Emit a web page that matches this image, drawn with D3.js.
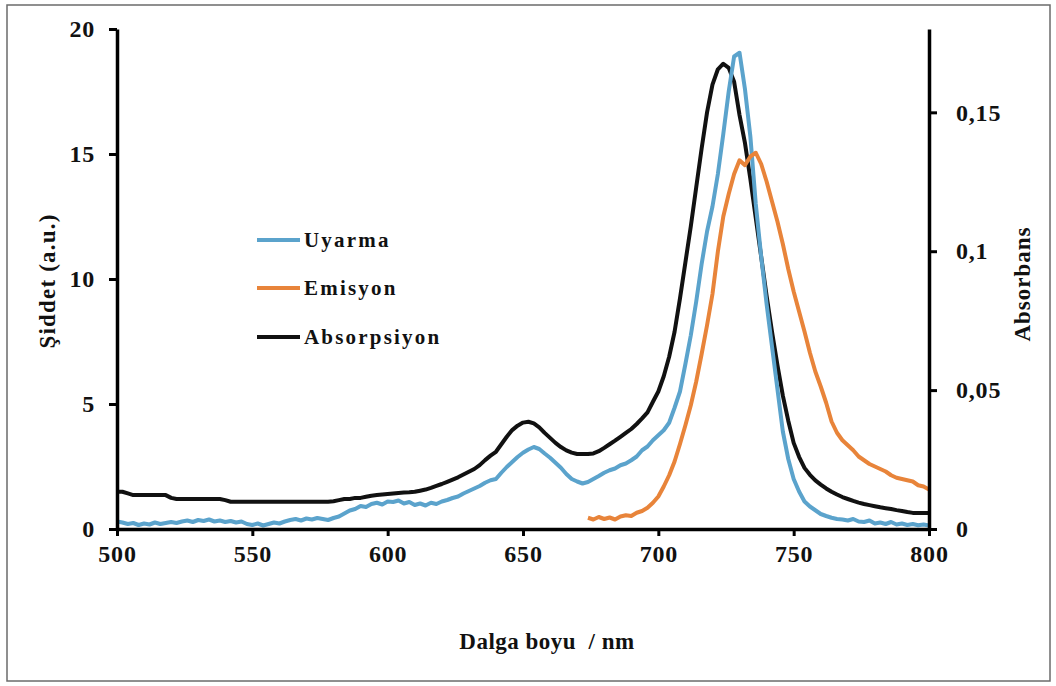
<!DOCTYPE html>
<html>
<head>
<meta charset="utf-8">
<script src="https://cdn.jsdelivr.net/npm/d3@7/dist/d3.min.js"></script>
<style>
  html, body { margin: 0; padding: 0; background: #fff; }
  svg { display: block; }
  text { font-family: "Liberation Serif", "Times New Roman", serif; font-weight: bold; fill: #111; }
</style>
</head>
<body>
<svg id="chart" width="1056" height="686"></svg>
<script>
// Excitation spectrum (Uyarma), intensity a.u., 500–800 nm every 2 nm
const uyarmaStart = 500, uyarmaStep = 2;
const uyarma = [
  0.30, 0.26, 0.20, 0.24, 0.16, 0.22, 0.18, 0.26, 0.20, 0.24,
  0.28, 0.24, 0.30, 0.34, 0.28, 0.36, 0.32, 0.38, 0.30, 0.34,
  0.28, 0.32, 0.26, 0.30, 0.20, 0.16, 0.22, 0.14, 0.20, 0.26,
  0.22, 0.30, 0.36, 0.40, 0.34, 0.42, 0.38, 0.44, 0.40, 0.36,
  0.44, 0.50, 0.62, 0.74, 0.80, 0.92, 0.88, 1.00, 1.05, 0.98,
  1.10, 1.08, 1.14, 1.02, 1.08, 0.96, 1.02, 0.94, 1.05, 1.00,
  1.10, 1.16, 1.24, 1.30, 1.42, 1.52, 1.62, 1.72, 1.85, 1.95,
  2.00, 2.25, 2.48, 2.68, 2.88, 3.05, 3.18, 3.28, 3.20, 3.02,
  2.85, 2.65, 2.45, 2.20, 2.00, 1.90, 1.82, 1.88, 2.00, 2.12,
  2.25, 2.35, 2.42, 2.55, 2.62, 2.75, 2.90, 3.15, 3.30, 3.55,
  3.75, 3.95, 4.25, 4.85, 5.50, 6.60, 7.75, 9.10, 10.60, 11.90,
  12.90, 14.20, 15.80, 17.50, 18.90, 19.05, 17.60, 15.70, 13.00, 10.90,
  9.00, 7.30, 5.60, 3.90, 2.80, 2.00, 1.50, 1.10, 0.90, 0.75,
  0.60, 0.52, 0.45, 0.40, 0.38, 0.34, 0.40, 0.30, 0.28, 0.34,
  0.22, 0.26, 0.20, 0.28, 0.18, 0.22, 0.16, 0.20, 0.15, 0.18,
  0.14
];

// Emission spectrum (Emisyon), intensity a.u., 674–800 nm every 2 nm
const emisyonStart = 674, emisyonStep = 2;
const emisyon = [
  0.45, 0.38, 0.48, 0.40, 0.46, 0.38, 0.50, 0.55, 0.52, 0.65,
  0.72, 0.85, 1.05, 1.30, 1.70, 2.15, 2.70, 3.40, 4.15, 4.95,
  5.90, 7.00, 8.15, 9.40, 11.10, 12.50, 13.40, 14.20, 14.75, 14.55,
  14.90, 15.05, 14.60, 13.90, 13.10, 12.30, 11.40, 10.40, 9.50, 8.70,
  7.90, 7.05, 6.30, 5.70, 5.05, 4.30, 3.85, 3.55, 3.35, 3.15,
  2.90, 2.75, 2.60, 2.50, 2.40, 2.30, 2.15, 2.05, 2.00, 1.95,
  1.90, 1.75, 1.70, 1.58
];

// Absorption spectrum (Absorpsiyon), absorbance, 500–800 nm every 2 nm
const absorpsiyonStart = 500, absorpsiyonStep = 2;
const absorpsiyon = [
  0.0134, 0.0134, 0.0128, 0.0122, 0.0122, 0.0122, 0.0122, 0.0122, 0.0122, 0.0122,
  0.0112, 0.0108, 0.0108, 0.0108, 0.0108, 0.0108, 0.0108, 0.0108, 0.0108, 0.0108,
  0.0104, 0.0098, 0.0098, 0.0098, 0.0098, 0.0098, 0.0098, 0.0098, 0.0098, 0.0098,
  0.0098, 0.0098, 0.0098, 0.0098, 0.0098, 0.0098, 0.0098, 0.0098, 0.0098, 0.0098,
  0.0100, 0.0104, 0.0108, 0.0108, 0.0112, 0.0112, 0.0116, 0.0120, 0.0122, 0.0124,
  0.0126, 0.0128, 0.0130, 0.0131, 0.0132, 0.0134, 0.0138, 0.0142, 0.0148, 0.0155,
  0.0162, 0.0170, 0.0178, 0.0186, 0.0196, 0.0206, 0.0216, 0.0230, 0.0248, 0.0264,
  0.0278, 0.0305, 0.0332, 0.0356, 0.0372, 0.0383, 0.0386, 0.0380, 0.0366, 0.0346,
  0.0328, 0.0310, 0.0295, 0.0283, 0.0275, 0.0270, 0.0270, 0.0270, 0.0272, 0.0280,
  0.0292, 0.0305, 0.0318, 0.0332, 0.0346, 0.0360, 0.0378, 0.0398, 0.0420, 0.0458,
  0.0495, 0.0550, 0.0620, 0.0710, 0.0830, 0.0960, 0.1090, 0.1230, 0.1370, 0.1500,
  0.1600, 0.1655, 0.1675, 0.1660, 0.1610, 0.1490, 0.1390, 0.1260, 0.1120, 0.0980,
  0.0840, 0.0710, 0.0590, 0.0480, 0.0390, 0.0310, 0.0260, 0.0220, 0.0195, 0.0175,
  0.0160, 0.0146, 0.0134, 0.0124, 0.0115, 0.0108, 0.0101, 0.0095, 0.0090, 0.0086,
  0.0082, 0.0078, 0.0075, 0.0072, 0.0068, 0.0065, 0.0061, 0.0058, 0.0058, 0.0058,
  0.0058
];

// Axis ticks and labels
const xTicks = [500, 550, 600, 650, 700, 750, 800];
const yLeftTicks = [0, 5, 10, 15, 20];
const yRightTicks = [0, 0.05, 0.1, 0.15];
const yRightLabels = ["0", "0,05", "0,1", "0,15"];

const seriesNames = ["Uyarma", "Emisyon", "Absorpsiyon"];
const seriesColors = ["#5ba3cc", "#e8843a", "#111111"];

// ---- layout ----
const W = 1056, H = 686;
const plot = { left: 117, right: 929, top: 29, bottom: 529 };

const svg = d3.select("#chart");
svg.append("rect").attr("x", 0).attr("y", 0).attr("width", W).attr("height", H).attr("fill", "#fff");
// outer frame
svg.append("rect")
  .attr("x", 7).attr("y", 5).attr("width", 1043).attr("height", 676)
  .attr("fill", "none").attr("stroke", "#6b6b6b").attr("stroke-width", 1.5);

const x = d3.scaleLinear().domain([500, 800]).range([plot.left, plot.right]);
const yL = d3.scaleLinear().domain([0, 20]).range([plot.bottom, plot.top]);
const yR = d3.scaleLinear().domain([0, 0.18]).range([plot.bottom, plot.top]);

const toPoints = (vals, start, step) => vals.map((v, i) => [start + i * step, v]);

const lineL = d3.line().x(d => x(d[0])).y(d => yL(d[1]));
const lineR = d3.line().x(d => x(d[0])).y(d => yR(d[1]));

const g = svg.append("g");

g.append("path")
  .datum(toPoints(absorpsiyon, absorpsiyonStart, absorpsiyonStep))
  .attr("d", lineR).attr("fill", "none")
  .attr("stroke", seriesColors[2]).attr("stroke-width", 4).attr("stroke-linejoin", "round");

g.append("path")
  .datum(toPoints(uyarma, uyarmaStart, uyarmaStep))
  .attr("d", lineL).attr("fill", "none")
  .attr("stroke", seriesColors[0]).attr("stroke-width", 4).attr("stroke-linejoin", "round");

g.append("path")
  .datum(toPoints(emisyon, emisyonStart, emisyonStep))
  .attr("d", lineL).attr("fill", "none")
  .attr("stroke", seriesColors[1]).attr("stroke-width", 4).attr("stroke-linejoin", "round");

// ---- axes ----
function styleAxis(sel) {
  sel.select(".domain").attr("stroke", "#000").attr("stroke-width", 3.5);
  sel.selectAll(".tick line").attr("stroke", "#000").attr("stroke-width", 3);
  sel.selectAll(".tick text")
    .style("font-family", "'Liberation Serif', 'Times New Roman', serif")
    .style("font-weight", "bold").style("font-size", "24px").style("letter-spacing", "0.8px")
    .attr("fill", "#111");
}

const xAxis = svg.append("g").attr("transform", `translate(0,${plot.bottom})`)
  .call(d3.axisBottom(x).tickValues(xTicks).tickSize(7).tickSizeOuter(0).tickPadding(9).tickFormat(d3.format("d")));
styleAxis(xAxis);

const yAxisL = svg.append("g").attr("transform", `translate(${plot.left},0)`)
  .call(d3.axisLeft(yL).tickValues(yLeftTicks).tickSize(8).tickSizeOuter(0).tickPadding(14).tickFormat(d3.format("d")));
styleAxis(yAxisL);

const yAxisR = svg.append("g").attr("transform", `translate(${plot.right},0)`)
  .call(d3.axisRight(yR).tickValues(yRightTicks).tickSize(8).tickSizeOuter(0).tickPadding(19)
    .tickFormat((d, i) => yRightLabels[i]));
styleAxis(yAxisR);

// ---- axis titles ----
svg.append("text")
  .attr("transform", "translate(55,281) rotate(-90)")
  .attr("text-anchor", "middle").style("font-size", "23px").style("letter-spacing", "1.2px")
  .text("Şiddet (a.u.)");

svg.append("text")
  .attr("transform", "translate(1030,284) rotate(-90)")
  .attr("text-anchor", "middle").style("font-size", "23px").style("letter-spacing", "1px")
  .text("Absorbans");

svg.append("text")
  .attr("x", 547).attr("y", 649)
  .attr("text-anchor", "middle").style("font-size", "23px").style("letter-spacing", "0.5px")
  .attr("xml:space", "preserve")
  .text("Dalga boyu  / nm");

// ---- legend ----
const legendY = [240, 288, 337];
const legend = svg.append("g");
seriesNames.forEach((name, i) => {
  legend.append("line")
    .attr("x1", 257).attr("x2", 300).attr("y1", legendY[i]).attr("y2", legendY[i])
    .attr("stroke", seriesColors[i]).attr("stroke-width", 4);
  legend.append("text")
    .attr("x", 304).attr("y", legendY[i] + 7)
    .style("font-size", "21px").style("letter-spacing", "2.2px")
    .text(name);
});
</script>
</body>
</html>
